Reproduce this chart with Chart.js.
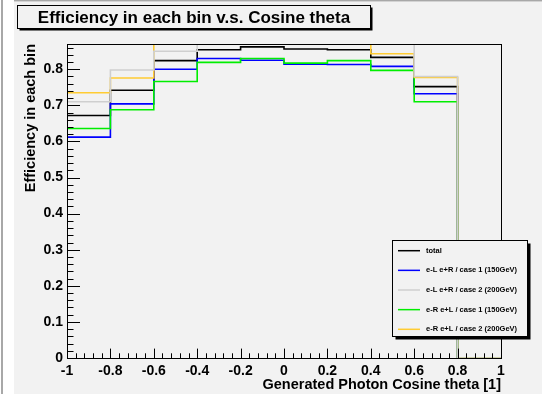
<!DOCTYPE html>
<html><head><meta charset="utf-8">
<script src="https://cdn.jsdelivr.net/npm/chart.js@4.4.1/dist/chart.umd.min.js"></script>
<style>html,body{margin:0;padding:0;background:#fff;overflow:hidden}</style>
</head><body>
<canvas id="c" width="542" height="394"></canvas>
<script>
// ---- data ----
const binEdges = [-1, -0.8, -0.6, -0.4, -0.2, 0, 0.2, 0.4, 0.6, 0.8, 1];
const seriesNames = ['total', 'e-L e+R / case 1 (150GeV)', 'e-L e+R / case 2 (200GeV)', 'e-R e+L / case 1 (150GeV)', 'e-R e+L / case 2 (200GeV)'];
const totalEff   = [0.672, 0.742, 0.824, 0.854, 0.862, 0.856, 0.854, 0.833, 0.752, 0];
const eLeRcase1  = [0.612, 0.704, 0.800, 0.830, 0.825, 0.814, 0.813, 0.808, 0.732, 0];
const eLeRcase2  = [0.710, 0.798, 0.850, 0.880, 0.885, 0.885, 0.880, 0.876, 0.780, 0];
const eReLcase1  = [0.636, 0.688, 0.766, 0.819, 0.830, 0.817, 0.824, 0.797, 0.710, 0];
const eReLcase2  = [0.735, 0.776, 0.880, 0.885, 0.890, 0.890, 0.885, 0.843, 0.777, 0];
const xTickLabels = ['-1', '-0.8', '-0.6', '-0.4', '-0.2', '0', '0.2', '0.4', '0.6', '0.8', '1'];
const yTickLabels = ['0', '0.1', '0.2', '0.3', '0.4', '0.5', '0.6', '0.7', '0.8'];
const chartTitle = 'Efficiency in each bin v.s. Cosine theta';
const xTitle = 'Generated Photon Cosine theta [1]';
const yTitle = 'Efficiency in each bin';

const colors = ['#000000', '#0000ff', '#cfcfcf', '#00ee00', '#ffcc33'];
const seriesVals = [totalEff, eLeRcase1, eLeRcase2, eReLcase1, eReLcase2];
const drawOrder = [2, 4, 3, 1, 0];

function histPoints(vals) {
  const pts = vals.map((v, i) => ({x: binEdges[i], y: v}));
  pts.push({x: binEdges[binEdges.length - 1], y: vals[vals.length - 1]});
  return pts;
}

const FONT = '"Liberation Sans", Arial, Helvetica, sans-serif';
const BG = '#f2f2f2';

const datasets = drawOrder.map(i => ({
  label: seriesNames[i],
  data: histPoints(seriesVals[i]),
  borderColor: colors[i],
  backgroundColor: colors[i],
  borderWidth: 1.6,
  pointRadius: 0,
  stepped: 'before',
  fill: false,
  tension: 0
}));

const rootPlugin = {
  id: 'rootStyle',
  beforeDraw(chart) {
    const ctx = chart.ctx;
    ctx.save();
    ctx.fillStyle = '#ffffff';
    ctx.fillRect(0, 0, 542, 394);
    ctx.fillStyle = BG;
    ctx.fillRect(14, 2, 528, 392);
    ctx.fillStyle = '#a8a8a8';
    ctx.fillRect(1, 0, 2, 394);
    ctx.fillRect(14, 0, 528, 1.5);
    ctx.restore();
  },
  afterDatasetsDraw(chart) {
    const ctx = chart.ctx;
    const a = chart.chartArea;
    const xs = chart.scales.x, ys = chart.scales.y;
    ctx.save();
    ctx.strokeStyle = '#000';
    ctx.lineWidth = 1;
    ctx.strokeRect(Math.round(a.left) + 0.5, Math.round(a.top) + 0.5, Math.round(a.right - a.left), Math.round(a.bottom - a.top));
    const xMaj = 9.4, xMin = 4.7;
    ctx.beginPath();
    for (let k = 0; k <= 50; k++) {
      const v = -1 + k * 0.04;
      const px = Math.round(xs.getPixelForValue(v)) + 0.5;
      const len = (k % 5 === 0) ? xMaj : xMin;
      ctx.moveTo(px, a.bottom);
      ctx.lineTo(px, a.bottom - len);
    }
    const yMaj = 13, yMin = 6.5;
    for (let k = 0; k <= 43; k++) {
      const v = k * 0.02;
      if (v > ys.max + 1e-9) break;
      const py = Math.round(ys.getPixelForValue(v)) + 0.5;
      const len = (k % 5 === 0) ? yMaj : yMin;
      ctx.moveTo(a.left, py);
      ctx.lineTo(a.left + len, py);
    }
    ctx.stroke();
    ctx.restore();
  },
  afterDraw(chart) {
    const ctx = chart.ctx;
    const a = chart.chartArea;
    ctx.save();
    ctx.fillStyle = '#000';
    ctx.fillRect(19.5, 7.5, 353, 23);
    ctx.fillStyle = BG;
    ctx.fillRect(17.5, 5.5, 353, 23);
    ctx.strokeStyle = '#000';
    ctx.lineWidth = 1;
    ctx.strokeRect(17.5, 5.5, 353, 23);
    ctx.fillStyle = '#000';
    ctx.font = 'bold 17px ' + FONT;
    ctx.textAlign = 'center';
    ctx.textBaseline = 'middle';
    ctx.fillText(chartTitle, 194, 18);
    ctx.font = 'bold 14.5px ' + FONT;
    ctx.textAlign = 'right';
    ctx.textBaseline = 'alphabetic';
    ctx.fillText(xTitle, a.right, 389);
    ctx.save();
    ctx.translate(35, a.top);
    ctx.rotate(-Math.PI / 2);
    ctx.textAlign = 'right';
    ctx.textBaseline = 'alphabetic';
    ctx.fillText(yTitle, 0, 0);
    ctx.restore();
    const L = 392.5, T = 240.5, W = 135, H = 96;
    ctx.fillStyle = '#000';
    ctx.fillRect(L + 3, T + 3, W, H);
    ctx.fillStyle = BG;
    ctx.fillRect(L, T, W, H);
    ctx.strokeRect(L, T, W, H);
    ctx.font = 'bold 7.5px ' + FONT;
    ctx.textAlign = 'left';
    ctx.textBaseline = 'middle';
    for (let i = 0; i < seriesNames.length; i++) {
      const y = 250.7 + i * 19.65;
      ctx.strokeStyle = colors[i];
      ctx.lineWidth = 1.5;
      ctx.beginPath();
      ctx.moveTo(398, y);
      ctx.lineTo(420, y);
      ctx.stroke();
      ctx.fillStyle = '#000';
      ctx.fillText(seriesNames[i], 426, y);
    }
    ctx.restore();
  }
};

new Chart(document.getElementById('c'), {
  type: 'line',
  data: {datasets},
  options: {
    responsive: false,
    devicePixelRatio: 1,
    animation: false,
    layout: {padding: {top: 44, right: 41, left: 0, bottom: 0}},
    plugins: {legend: {display: false}, tooltip: {enabled: false}, title: {display: false}},
    scales: {
      x: {
        type: 'linear', min: -1, max: 1,
        grid: {display: false, drawTicks: false}, border: {display: false},
        afterBuildTicks: s => { s.ticks = xTickLabels.map(t => ({value: Number(t)})); },
        afterFit: s => { s.height = 36; s.paddingLeft = 0; s.paddingRight = 0; },
        ticks: {
          padding: 5, color: '#000', maxRotation: 0, autoSkip: false,
          font: {family: FONT, weight: 'bold', size: 14},
          callback: (v, i) => xTickLabels[i]
        }
      },
      y: {
        type: 'linear', min: 0, max: 0.87,
        grid: {display: false, drawTicks: false}, border: {display: false},
        afterBuildTicks: s => { s.ticks = yTickLabels.map(t => ({value: Number(t)})); },
        afterFit: s => { s.width = 67; s.paddingTop = 0; s.paddingBottom = 0; },
        ticks: {
          padding: 4, color: '#000', autoSkip: false,
          font: {family: FONT, weight: 'bold', size: 14},
          callback: (v, i) => yTickLabels[i]
        }
      }
    }
  },
  plugins: [rootPlugin]
});
</script>
</body></html>
